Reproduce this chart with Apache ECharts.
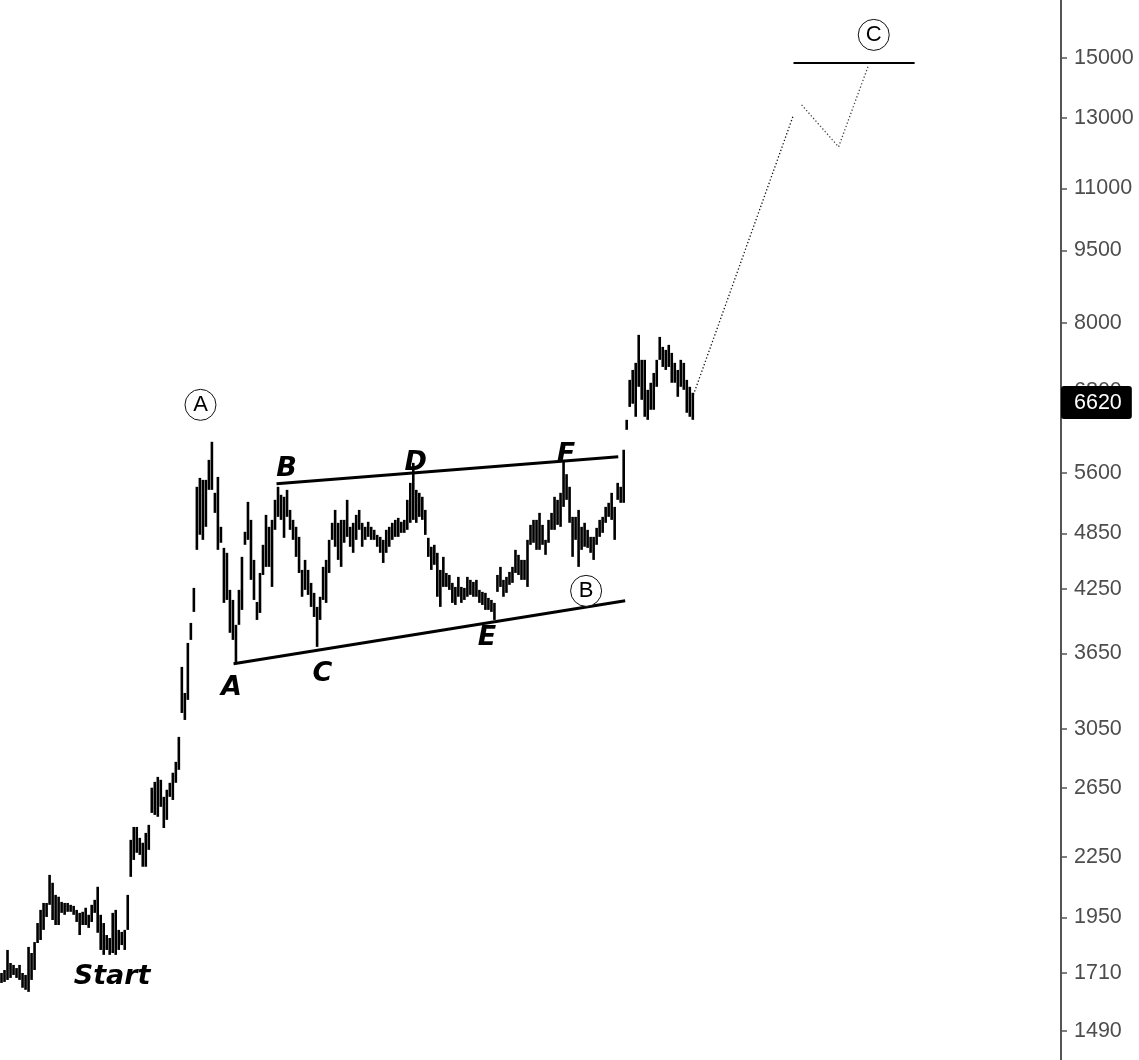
<!DOCTYPE html>
<html>
<head>
<meta charset="utf-8">
<script src="https://cdn.jsdelivr.net/npm/echarts@6/dist/echarts.min.js"></script>
<style>
html,body{margin:0;padding:0;background:#fff;}
#chart{width:1139px;height:1060px;}
</style>
</head>
<body>
<div id="chart"></div>
<script>
// ---- data (bar index, price) ----
const barHigh = [1709,1721,1805,1750,1742,1729,1742,1709,1701,1818,1792,1839,1924,1985,2018,2018,2157,2117,2057,2048,
2023,2018,2018,2009,2004,1985,1971,1976,1995,1962,2009,2033,2097,1962,1924,1870,1857,1971,1985,1893,
1884,1893,2057,2344,2417,2417,2355,2328,2383,2429,2653,2690,2722,2703,2596,2640,2684,2749,2821,2993,
3534,3322,3741,3923,4263,5419,5535,5509,5509,5777,6030,5342,5548,4928,4688,4633,4243,4143,3905,4243,
4589,4870,5229,5010,4556,4123,4417,4722,5070,4928,5010,5254,5419,5317,5292,5380,5130,5010,4928,4812,
4449,4556,4449,4314,4213,4075,4174,4481,4556,4778,4975,5130,4975,5010,5010,5254,4928,4975,5070,5130,
4975,4928,4987,4928,4893,4835,4812,4778,4893,4928,4975,5010,5034,4987,5010,5254,5470,5736,5380,5342,
5292,5130,4801,4700,4722,4633,4449,4589,4417,4396,4314,4273,4376,4273,4263,4376,4345,4324,4345,4243,
4223,4213,4163,4143,4114,4396,4481,4345,4376,4428,4481,4666,4611,4556,4556,4778,4951,5010,5010,5094,
4951,4778,5010,5094,5292,5254,5342,5777,5584,5419,5046,5046,5130,4928,4975,4893,4812,4812,4916,5010,
5046,5167,5217,5342,5167,5470,5419,5917,6353,6985,7152,7273,7773,7325,7325,6822,6937,7101,7325,7735,
7554,7500,7590,7447,7273,7152,7325,7273,6985,6871,6774];
const barLow = [1669,1673,1681,1689,1701,1689,1681,1650,1642,1634,1681,1721,1835,1848,1893,1952,2009,1938,1915,1915,
1971,1962,1976,1976,1962,1929,1870,1915,1915,1902,1929,1971,1880,1805,1784,1805,1784,1792,1784,1805,
1826,1805,1893,2147,2235,2273,2262,2199,2199,2289,2499,2487,2476,2535,2411,2458,2596,2577,2684,2768,
3168,3116,3268,3768,4027,4666,4836,4778,4928,5380,5380,5094,4666,4745,4114,4143,3832,3768,3567,3905,
4046,4722,4778,4345,4143,3951,4017,4396,4481,4481,4273,4893,5046,5010,4801,5046,4893,4778,4589,4417,
4174,4243,4193,4075,3979,3706,3951,4143,4114,4417,4778,4700,4556,4481,4745,4812,4700,4633,4778,4893,
4700,4778,4812,4778,4778,4700,4633,4523,4633,4700,4778,4812,4812,4858,4858,4893,4975,5010,4975,5046,
5010,4835,4589,4449,4503,4174,4075,4273,4273,4243,4114,4094,4174,4114,4143,4174,4193,4174,4174,4114,
4094,4046,4046,4027,3951,4223,4273,4174,4213,4294,4314,4417,4396,4345,4345,4273,4722,4745,4666,4666,
4722,4611,4745,4893,4893,4951,4928,5167,5254,4975,4589,4778,4481,4666,4700,4688,4633,4556,4722,4812,
4858,4975,5046,5010,4778,5254,5217,5217,6204,6551,6600,6399,6871,6662,6399,6353,6506,6506,6871,7325,
7203,7152,7203,6937,6937,6710,6871,6822,6460,6399,6353];
const yTicks = [1490,1710,1950,2250,2650,3050,3650,4250,4850,5600,6800,8000,9500,11000,13000,15000];
const lastPrice = 6620;
const upperLine = [[91.5,5457],[205.2,5819]];
const lowerLine = [[77.2,3560],[207.5,4134]];
const targetLine = [[263.5,14823],[303.8,14823]];
const projectionA = [[230.2,6741],[263.5,13100]];
const projectionB = [[266.2,13416],[278.5,12144],[288.5,14752]];
const waveLabels = [
  {name:'A', value:[76.5,3363]},
  {name:'B', value:[94.8,5655]},
  {name:'C', value:[106.8,3477]},
  {name:'D', value:[137.8,5736]},
  {name:'E', value:[161.5,3786]},
  {name:'F', value:[187.8,5846]},
  {name:'Start', value:[36.8,1694]}
];
const circleLabels = [
  {name:'A', value:[66.2,6583]},
  {name:'B', value:[194.5,4233]},
  {name:'C', value:[290.2,15842]}
];

const bars = barHigh.map((h, i) => [i, barLow[i], h]);

const chart = echarts.init(document.getElementById('chart'));
chart.setOption({
  animation: false,
  backgroundColor: '#fff',
  grid: {left: 0, right: 78, top: 0, bottom: 0, containLabel: false},
  xAxis: {type: 'value', min: -0.5, max: 352.5, show: false},
  yAxis: {
    type: 'log', position: 'right', min: 1390, max: 17210,
    axisLine: {show: true, onZero: false, lineStyle: {color: '#555', width: 2}},
    axisTick: {show: true, inside: false, length: 6, lineStyle: {color: '#555', width: 1.5}, customValues: yTicks},
    axisLabel: {show: true, color: '#4d4d4d', fontSize: 21.5, fontFamily: 'Liberation Sans, Arial, sans-serif', margin: 13,
      customValues: yTicks, formatter: v => String(Math.round(v))},
    splitLine: {show: false},
    axisPointer: {
      show: true, value: lastPrice, status: 'show', type: 'line', triggerTooltip: false,
      lineStyle: {opacity: 0},
      label: {show: true, backgroundColor: '#000', color: '#fff', fontSize: 21.5, fontFamily: 'Liberation Sans, Arial, sans-serif', padding: [6, 10, 5, 13], margin: 0,
        formatter: p => String(Math.round(p.value))}
    }
  },
  series: [
    {
      type: 'custom', data: bars, z: 2,
      renderItem: (params, api) => {
        const x = api.value(0);
        const lo = api.coord([x, api.value(1)]);
        const hi = api.coord([x, api.value(2)]);
        return {type: 'rect', shape: {x: lo[0] - 1.3, y: hi[1], width: 2.6, height: Math.max(1, lo[1] - hi[1])}, style: {fill: '#000'}};
      }
    },
    {type: 'line', data: upperLine, symbol: 'none', lineStyle: {color: '#000', width: 3}, z: 3},
    {type: 'line', data: lowerLine, symbol: 'none', lineStyle: {color: '#000', width: 3}, z: 3},
    {type: 'line', data: targetLine, symbol: 'none', lineStyle: {color: '#000', width: 2}, z: 3},
    {type: 'line', data: projectionA, symbol: 'none', lineStyle: {color: '#111', width: 1.3, type: [1.3, 2.2]}, z: 3},
    {type: 'line', data: projectionB, symbol: 'none', lineStyle: {color: '#444', width: 1.3, type: [1.3, 2.2]}, z: 3},
    {
      type: 'scatter', data: waveLabels, symbol: 'circle', symbolSize: 1, z: 4,
      itemStyle: {color: 'rgba(0,0,0,0)', opacity: 1},
      label: {show: true, position: 'inside', formatter: p => p.name, color: '#000', fontSize: 27,
        fontWeight: 'bold', fontStyle: 'italic', fontFamily: 'DejaVu Sans'}
    },
    {
      type: 'scatter', data: circleLabels, symbol: 'circle', symbolSize: 31, z: 4,
      itemStyle: {color: '#fff', borderColor: '#111', borderWidth: 1, opacity: 1},
      label: {show: true, position: 'inside', formatter: p => p.name, color: '#000', fontSize: 22,
        fontFamily: 'Liberation Sans, Arial, sans-serif'}
    }
  ]
});
</script>
</body>
</html>
